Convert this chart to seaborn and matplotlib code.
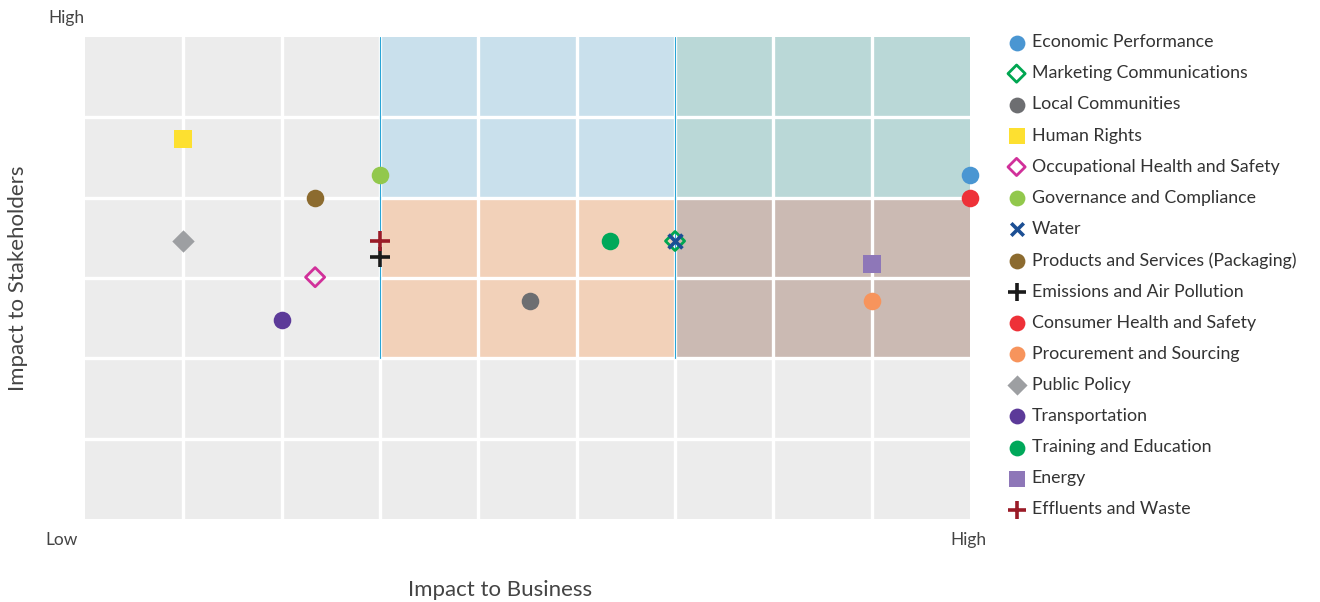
import pandas as pd
import seaborn as sns
import matplotlib.pyplot as plt
from matplotlib.patches import Rectangle

# materiality topics, in legend order
topics = ['Economic Performance', 'Marketing Communications', 'Local Communities', 'Human Rights',
          'Occupational Health and Safety', 'Governance and Compliance', 'Water',
          'Products and Services (Packaging)', 'Emissions and Air Pollution', 'Consumer Health and Safety',
          'Procurement and Sourcing', 'Public Policy', 'Transportation', 'Training and Education',
          'Energy', 'Effluents and Waste']
business = [9.0, 6.0, 4.52, 1.0, 2.34, 3.0, 6.0, 2.34, 3.0, 9.0, 8.0, 1.0, 2.0, 5.34, 8.0, 3.0]
stakeholders = [4.28, 3.46, 2.71, 4.73, 3.01, 4.28, 3.46, 4.0, 3.26, 4.0, 2.71, 3.46, 2.48, 3.46, 3.17, 3.46]
colors = ['#4a96d2', '#00a651', '#6d6e71', '#fde030', '#d1309a', '#92c84c', '#1c4f94', '#8c6b2f',
          '#1a1a1a', '#ee3138', '#f7945c', '#9d9fa2', '#5c3a99', '#00a85a', '#8e77b8', '#9a1b27']
markers = ['o', 'D', 'o', 's', 'D', 'o', 'x', 'o', '+', 'o', 'o', 'D', 'o', 'o', 's', '+']
hollow = ['Marketing Communications', 'Occupational Health and Safety']

# quadrant shading: (x0, y0, width, height, colour)
zones = [(0, 0, 9, 6, '#ececec'), (3, 4, 3, 2, '#c9e0ec'), (6, 4, 3, 2, '#bad8d7'),
         (3, 2, 3, 2, '#f2d1b9'), (6, 2, 3, 2, '#cbbab3')]

df = pd.DataFrame({'topic': topics, 'business': business, 'stakeholders': stakeholders})

sns.set_theme(style='white')
plt.rcParams['font.family'] = ['Lato', 'DejaVu Sans']
plt.rcParams['text.color'] = '#333333'

fig = plt.figure(figsize=(13.2, 6.02), dpi=100)
ax = fig.add_axes([0.0644, 0.1379, 0.6705, 0.8007])

for x0, y0, w, h, c in zones:
    ax.add_patch(Rectangle((x0, y0), w, h, facecolor=c, edgecolor='none', zorder=0))

for x in range(1, 9):
    ax.axvline(x, color='white', lw=2.4, zorder=1)
for y in range(1, 6):
    ax.axhline(y, color='white', lw=2.4, zorder=1)
for x in (3, 6):
    ax.plot([x, x], [2, 6], color='#2aa5d6', lw=0.8, zorder=2)

for i, row in df.iterrows():
    m = markers[i]
    sub = df.iloc[[i]]
    if row['topic'] in hollow:
        sns.scatterplot(data=sub, x='business', y='stakeholders', ax=ax, marker=m, s=95,
                        facecolor='none', edgecolor=colors[i], linewidth=2, label=row['topic'], zorder=3)
    elif m in ('+', 'x'):
        sns.scatterplot(data=sub, x='business', y='stakeholders', ax=ax, marker=m, s=190 if m == '+' else 100,
                        color=colors[i], linewidth=2.6, label=row['topic'], zorder=3)
    elif m == 's':
        sns.scatterplot(data=sub, x='business', y='stakeholders', ax=ax, marker=m, s=150,
                        color=colors[i], linewidth=0, label=row['topic'], zorder=3)
    elif m == 'D':
        sns.scatterplot(data=sub, x='business', y='stakeholders', ax=ax, marker=m, s=130,
                        color=colors[i], linewidth=0, label=row['topic'], zorder=3)
    else:
        sns.scatterplot(data=sub, x='business', y='stakeholders', ax=ax, marker=m, s=160,
                        color=colors[i], linewidth=0, label=row['topic'], zorder=3)

ax.set_xlim(0, 9)
ax.set_ylim(0, 6)
ax.set_xticks([])
ax.set_yticks([])
ax.set_xlabel('')
ax.set_ylabel('')
for s in ax.spines.values():
    s.set_visible(False)
for c in ax.collections:
    c.set_clip_on(False)

fig.text(0.050, 0.97, 'High', fontsize=12.5, ha='center', va='center', color='#444444')
fig.text(0.047, 0.103, 'Low', fontsize=12.5, ha='center', va='center', color='#444444')
fig.text(0.7333, 0.103, 'High', fontsize=12.5, ha='center', va='center', color='#444444')
fig.text(0.379, 0.02, 'Impact to Business', fontsize=16, ha='center', va='center', color='#444444')
fig.text(0.014, 0.538, 'Impact to Stakeholders', fontsize=16, ha='center', va='center',
         rotation=90, color='#444444')

leg = ax.legend(loc='upper left', bbox_to_anchor=(0.756, 0.958), bbox_transform=fig.transFigure,
                frameon=False, fontsize=12.8, labelspacing=0.85, handletextpad=0.3, handlelength=1.1,
                borderpad=0, labelcolor='#333333', markerscale=0.9)

plt.savefig('out.png', dpi=100)
